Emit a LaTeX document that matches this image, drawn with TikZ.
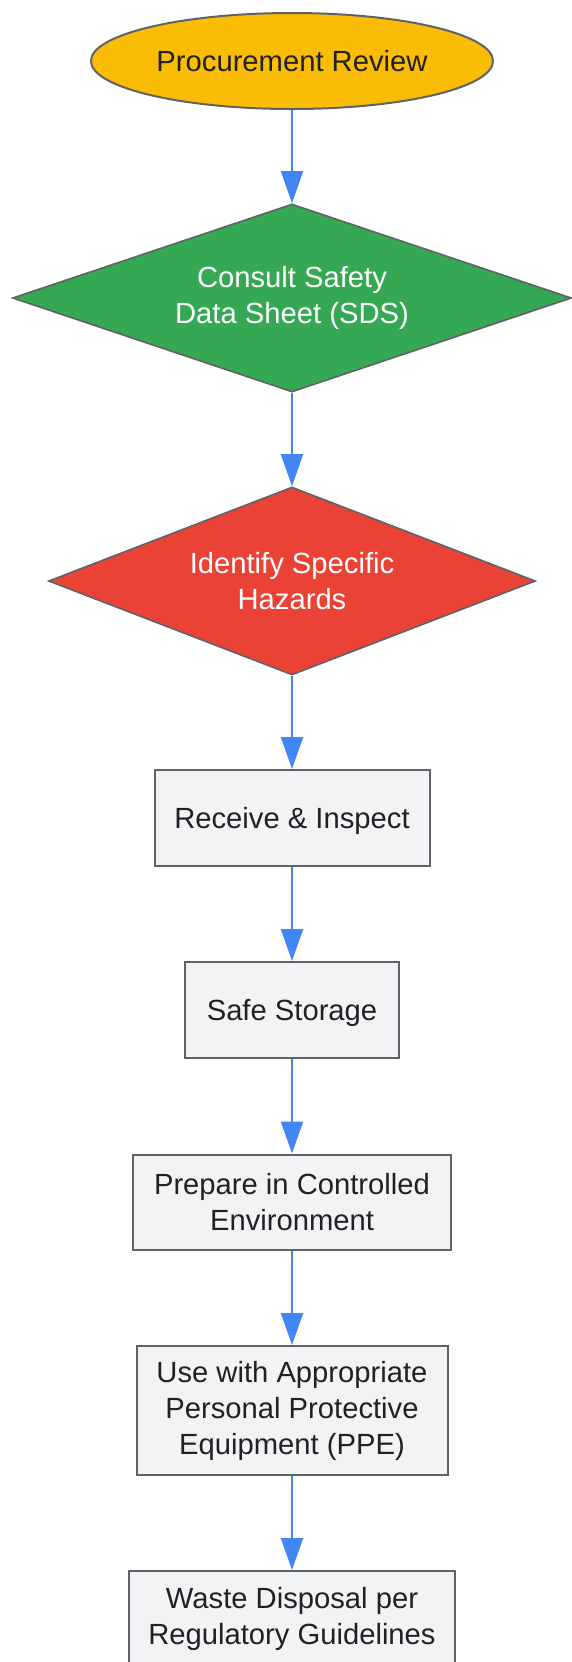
\documentclass[tikz,border=0pt]{standalone}
\usepackage{fontspec}
\setmainfont{Liberation Sans}
\usetikzlibrary{shapes.geometric,arrows.meta}
\definecolor{gborder}{HTML}{5F6368}
\definecolor{gtext}{HTML}{202124}
\definecolor{gblue}{HTML}{4285F4}
\definecolor{gyellow}{HTML}{FBBC04}
\definecolor{ggreen}{HTML}{34A853}
\definecolor{gred}{HTML}{EA4335}
\definecolor{gfill}{HTML}{F1F3F4}
\begin{document}
\begin{tikzpicture}[x=0.5pt, y=-0.5pt, font=\fontsize{14.6}{18}\selectfont,
    stepbox/.style={draw=gborder, line width=1pt, fill=gfill, text=gtext, align=center, inner sep=0pt},
    decision/.style={diamond, draw=gborder, line width=0.8pt, text=white, align=center, inner sep=0pt, minimum height=94pt},
    flow/.style={-{Triangle[length=16pt, width=11pt]}, gblue, line width=1pt}]
    \useasboundingbox (0,0) rectangle (572,1662);

    \node[ellipse, draw=gborder, line width=1pt, fill=gyellow, text=gtext, minimum width=195pt, minimum height=48pt] (review) at (292, 61) {Procurement Review};
    \node[decision, fill=ggreen, shape aspect=2.97, minimum width=279.5pt] (sds) at (292, 298) {Consult Safety\\Data Sheet (SDS)};
    \node[decision, fill=gred, shape aspect=2.59, minimum width=243.5pt] (hazards) at (292, 581) {Identify Specific\\Hazards};
    \node[stepbox, text depth=0pt, minimum width=137.5pt, minimum height=48pt] (inspect) at (292, 818) {Receive \& Inspect};
    \node[stepbox, text depth=0pt, minimum width=107pt, minimum height=48pt] (storage) at (292, 1010) {Safe Storage};
    \node[stepbox, minimum width=159pt, minimum height=47.5pt] (prepare) at (292, 1202) {Prepare in Controlled\\Environment};
    \node[stepbox, minimum width=155.5pt, minimum height=64.5pt] (ppe) at (292, 1410.5) {Use with Appropriate\\Personal Protective\\Equipment (PPE)};
    \node[stepbox, minimum width=163pt, minimum height=47.5pt] (waste) at (292, 1618.5) {Waste Disposal per\\Regulatory Guidelines};

    \draw[flow] (review) -- (sds);
    \draw[flow] (sds) -- (hazards);
    \draw[flow] (hazards) -- (inspect);
    \draw[flow] (inspect) -- (storage);
    \draw[flow] (storage) -- (prepare);
    \draw[flow] (prepare) -- (ppe);
    \draw[flow] (ppe) -- (waste);
\end{tikzpicture}
\end{document}
